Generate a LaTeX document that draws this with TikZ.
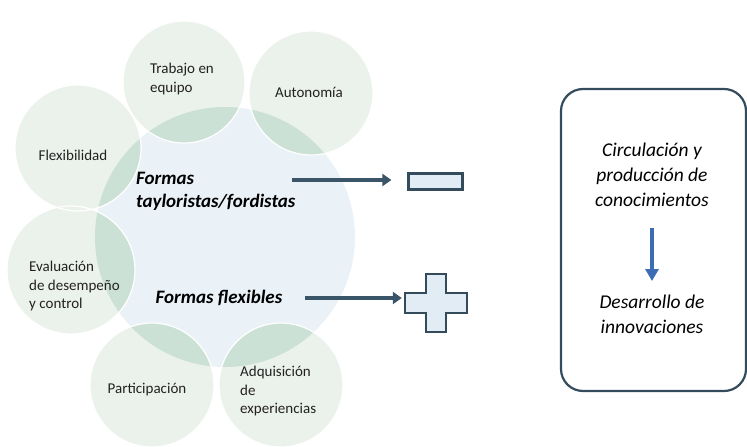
\documentclass[tikz,border=0pt]{standalone}
\usepackage{fontspec}
\setmainfont{Carlito}
\usetikzlibrary{arrows.meta}
\definecolor{bigfill}{HTML}{EAF2F8}
\definecolor{smallfill}{HTML}{EBF1EB}
\definecolor{overfill}{HTML}{CCE1D5}
\definecolor{slate}{HTML}{3A5568}
\definecolor{boxline}{HTML}{344B5C}
\definecolor{shapefill}{HTML}{E2ECF5}
\definecolor{bluearr}{HTML}{3B6CB4}
\definecolor{txt}{HTML}{222222}
\tikzset{
  lbl/.style={font=\fontsize{15}{18.5}\selectfont, text=txt, align=left, inner sep=0pt},
  bigtxt/.style={font=\fontsize{19}{23}\selectfont\bfseries\itshape, text=black, align=left, inner sep=0pt},
  boxtxt/.style={font=\fontsize{19.5}{25}\selectfont\itshape, text=black, align=center, inner sep=0pt},
  connarrow/.style={draw=slate, line width=3.4pt, -{Triangle[length=9pt,width=12pt]}},
}
\begin{document}
\begin{tikzpicture}[x=1pt,y=-1pt]
\useasboundingbox (0,0) rectangle (747,447);
% big circle
\fill[bigfill] (225,237) circle (130);
% small circles
\foreach \cx/\cy/\r in {184/82/61, 311/93/62, 78/148/63, 71/270/64, 152/385/62, 281/385/62}{
  \fill[smallfill] (\cx,\cy) circle (\r);
}
\begin{scope}
  \clip (225,237) circle (130);
  \foreach \cx/\cy/\r in {184/82/61, 311/93/62, 78/148/63, 71/270/64, 152/385/62, 281/385/62}{
    \fill[overfill] (\cx,\cy) circle (\r);
  }
\end{scope}
\foreach \cx/\cy/\r in {184/82/61, 311/93/62, 78/148/63, 71/270/64, 152/385/62, 281/385/62}{
  \draw[white, line width=1.2pt] (\cx,\cy) circle (\r);
}
% labels
\node[lbl] (trab) at (182,79) {Trabajo en\\equipo};
\node[lbl] (auto) at (309,92) {Autonomía};
\node[lbl] (flex) at (73,155) {Flexibilidad};
\node[lbl, anchor=west] (eval) at (29,286) {Evaluación\\de desempeño\\y control};
\node[lbl] (part) at (147,390) {Participación};
\node[lbl, anchor=west] (adq) at (240,391) {Adquisición\\de\\experiencias};
\node[bigtxt, anchor=west] (tf) at (136,191) {Formas\\tayloristas/fordistas};
\node[bigtxt] (ff) at (219,298) {Formas flexibles};
% minus and plus
\node[draw=boxline, line width=2.2pt, fill=shapefill, minimum width=54pt, minimum height=16pt, inner sep=0pt] (minus) at (435.5,181.5) {};
\node[inner sep=0pt, minimum width=62pt, minimum height=58pt] (plus) at (436,303) {};
\draw[boxline, line width=2pt, fill=shapefill]
  (426,274) -- (446,274) -- (446,293) -- (467,293) -- (467,313) -- (446,313) -- (446,332) -- (426,332) -- (426,313) -- (405,313) -- (405,293) -- (426,293) -- cycle;
% arrows
\coordinate (a1) at (292,180);
\coordinate (a2) at (305,298);
\draw[connarrow] (a1) -- ([xshift=-16pt]minus.west |- a1);
\draw[connarrow] (a2) -- ([xshift=-3pt]plus.west |- a2);
% right box
\draw[boxline, line width=2.2pt, rounded corners=22pt] (561,89) rectangle (746,391);
\node[boxtxt] (circ) at (652,175) {Circulación y\\producción de\\conocimientos};
\node[boxtxt] (des) at (652,314) {Desarrollo de\\innovaciones};
\draw[bluearr, line width=4pt, -{Triangle[length=12pt,width=13pt]}] (circ.south |- 0,228) -- (circ.south |- 0,281);
\end{tikzpicture}
\end{document}
